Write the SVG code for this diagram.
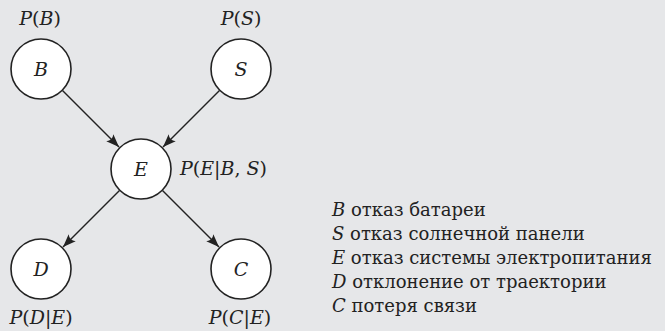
<svg xmlns="http://www.w3.org/2000/svg" width="665" height="331" viewBox="0 0 665 331">
<style>
.bg{fill:#e6e7e9}
.node{fill:#ffffff;stroke:#222;stroke-width:1.6}
.m{font-family:"DejaVu Serif","Liberation Serif",serif;font-style:italic;font-size:19px;fill:#222}
.up{font-style:normal}
.lg{font-family:"DejaVu Serif","Liberation Serif",serif;font-size:18px;fill:#222}
.edge{stroke:#222;stroke-width:1.4;fill:none;marker-end:url(#arr)}
</style>
<defs>
<marker id="arr" markerUnits="userSpaceOnUse" markerWidth="14" markerHeight="12" viewBox="0 0 14 12" refX="13" refY="6" orient="auto">
<path d="M0,1 L13,6 L0,11 Q4,6 0,1 Z" fill="#222"/>
</marker>
</defs>
<rect class="bg" x="0" y="0" width="665" height="331"/>
<g id="connectors">
<line class="edge" x1="62.5" y1="90.5" x2="119" y2="147"/>
<line class="edge" x1="219.5" y1="90.5" x2="163" y2="147"/>
<line class="edge" x1="119.5" y1="190.5" x2="63" y2="247"/>
<line class="edge" x1="162.5" y1="190.5" x2="219" y2="247"/>
</g>
<g id="node-B">
<circle class="node" cx="41" cy="69" r="30"/>
<text class="m" x="41" y="76" text-anchor="middle">B</text>
<text class="m" x="40" y="25" text-anchor="middle">P<tspan class="up">(</tspan>B<tspan class="up">)</tspan></text>
</g>
<g id="node-S">
<circle class="node" cx="241" cy="69" r="30"/>
<text class="m" x="241" y="76" text-anchor="middle">S</text>
<text class="m" x="241" y="25" text-anchor="middle">P<tspan class="up">(</tspan>S<tspan class="up">)</tspan></text>
</g>
<g id="node-E">
<circle class="node" cx="141" cy="169" r="30"/>
<text class="m" x="141" y="176" text-anchor="middle">E</text>
<text class="m" x="180" y="175">P<tspan class="up">(</tspan>E<tspan class="up">|</tspan>B<tspan class="up">, </tspan>S<tspan class="up">)</tspan></text>
</g>
<g id="node-D">
<circle class="node" cx="41" cy="269" r="30"/>
<text class="m" x="41" y="276" text-anchor="middle">D</text>
<text class="m" x="41" y="324" text-anchor="middle">P<tspan class="up">(</tspan>D<tspan class="up">|</tspan>E<tspan class="up">)</tspan></text>
</g>
<g id="node-C">
<circle class="node" cx="241" cy="269" r="30"/>
<text class="m" x="241" y="276" text-anchor="middle">C</text>
<text class="m" x="240" y="324" text-anchor="middle">P<tspan class="up">(</tspan>C<tspan class="up">|</tspan>E<tspan class="up">)</tspan></text>
</g>
<g id="legend" class="lg">
<text x="332" y="216"><tspan font-style="italic">B</tspan> отказ батареи</text>
<text x="332" y="240"><tspan font-style="italic">S</tspan> отказ солнечной панели</text>
<text x="332" y="264"><tspan font-style="italic">E</tspan> отказ системы электропитания</text>
<text x="332" y="288"><tspan font-style="italic">D</tspan> отклонение от траектории</text>
<text x="332" y="312"><tspan font-style="italic">C</tspan> потеря связи</text>
</g>
</svg>
